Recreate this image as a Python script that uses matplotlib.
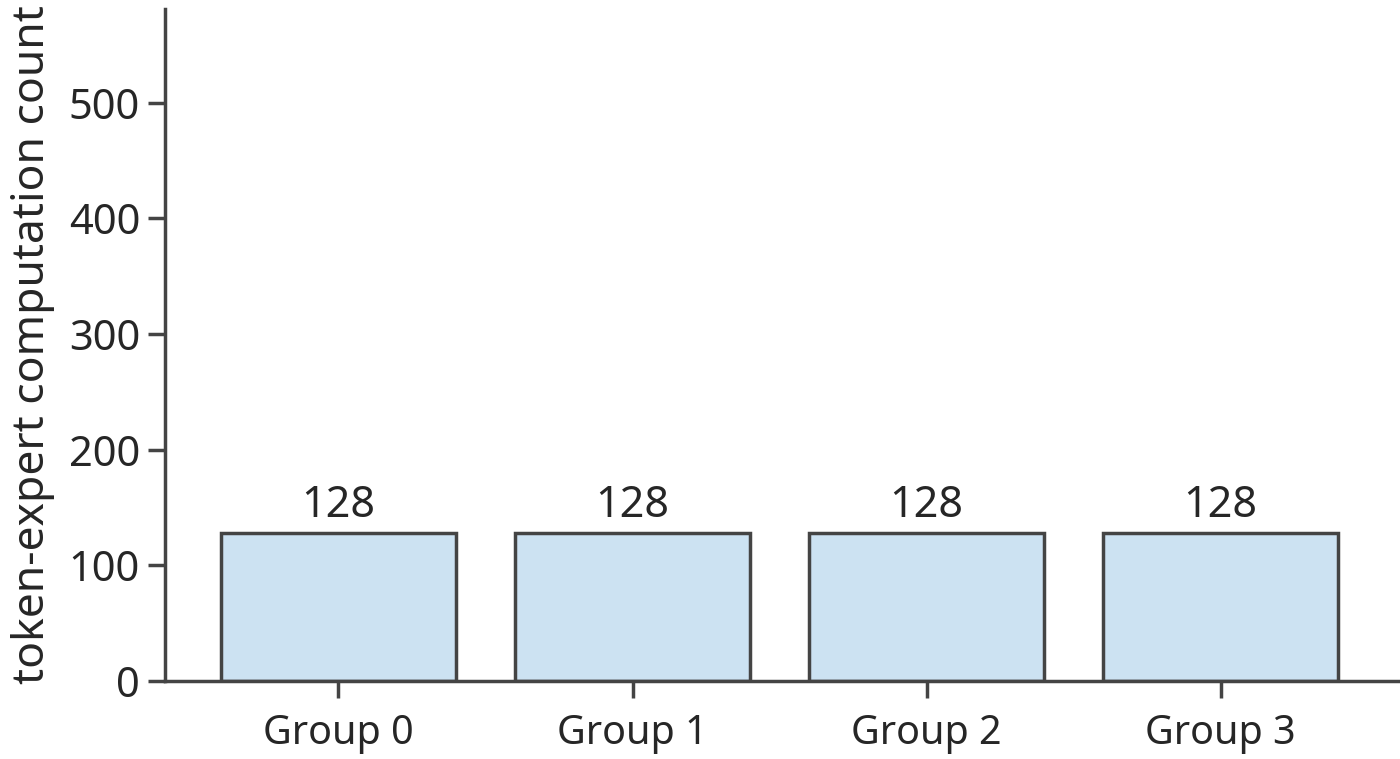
import matplotlib
matplotlib.use("Agg")
import matplotlib.pyplot as plt

categories = ["Group 0", "Group 1", "Group 2", "Group 3"]
values = [128, 128, 128, 128]
yticks = [0, 100, 200, 300, 400, 500]

plt.rcParams['font.family'] = ['Noto Sans', 'DejaVu Sans']
text_color = "#262626"
edge_color = "#444444"

fig = plt.figure(figsize=(14, 7.59), dpi=100)
ax = fig.add_axes([165/1400, 1 - 681/759, (1400-165)/1400, (681-9)/759])

x = list(range(len(categories)))
bars = ax.bar(x, values, width=0.8, color="#cce2f2", edgecolor=edge_color, linewidth=2.5)
for xi, v in zip(x, values):
    ax.text(xi, v + 4, str(v), ha="center", va="bottom", fontsize=31, color=text_color)

ax.set_xlim(-0.59, 3.61)
ax.set_ylim(0, 581)
ax.set_xticks(x)
ax.set_xticklabels(categories, fontsize=28.5, color=text_color)
ax.set_yticks(yticks)
ax.set_yticklabels([str(t) for t in yticks], fontsize=30, color=text_color)
ax.set_ylabel("token-expert computation count", fontsize=32, color=text_color, labelpad=10)

for s in ["top", "right"]:
    ax.spines[s].set_visible(False)
for s in ["left", "bottom"]:
    ax.spines[s].set_color(edge_color)
    ax.spines[s].set_linewidth(2.5)
ax.tick_params(axis="both", colors=edge_color, width=2.5, length=12, labelcolor=text_color)
ax.tick_params(axis="x", pad=12)
ax.tick_params(axis="y", pad=6)

fig.savefig("out.png", dpi=100)
